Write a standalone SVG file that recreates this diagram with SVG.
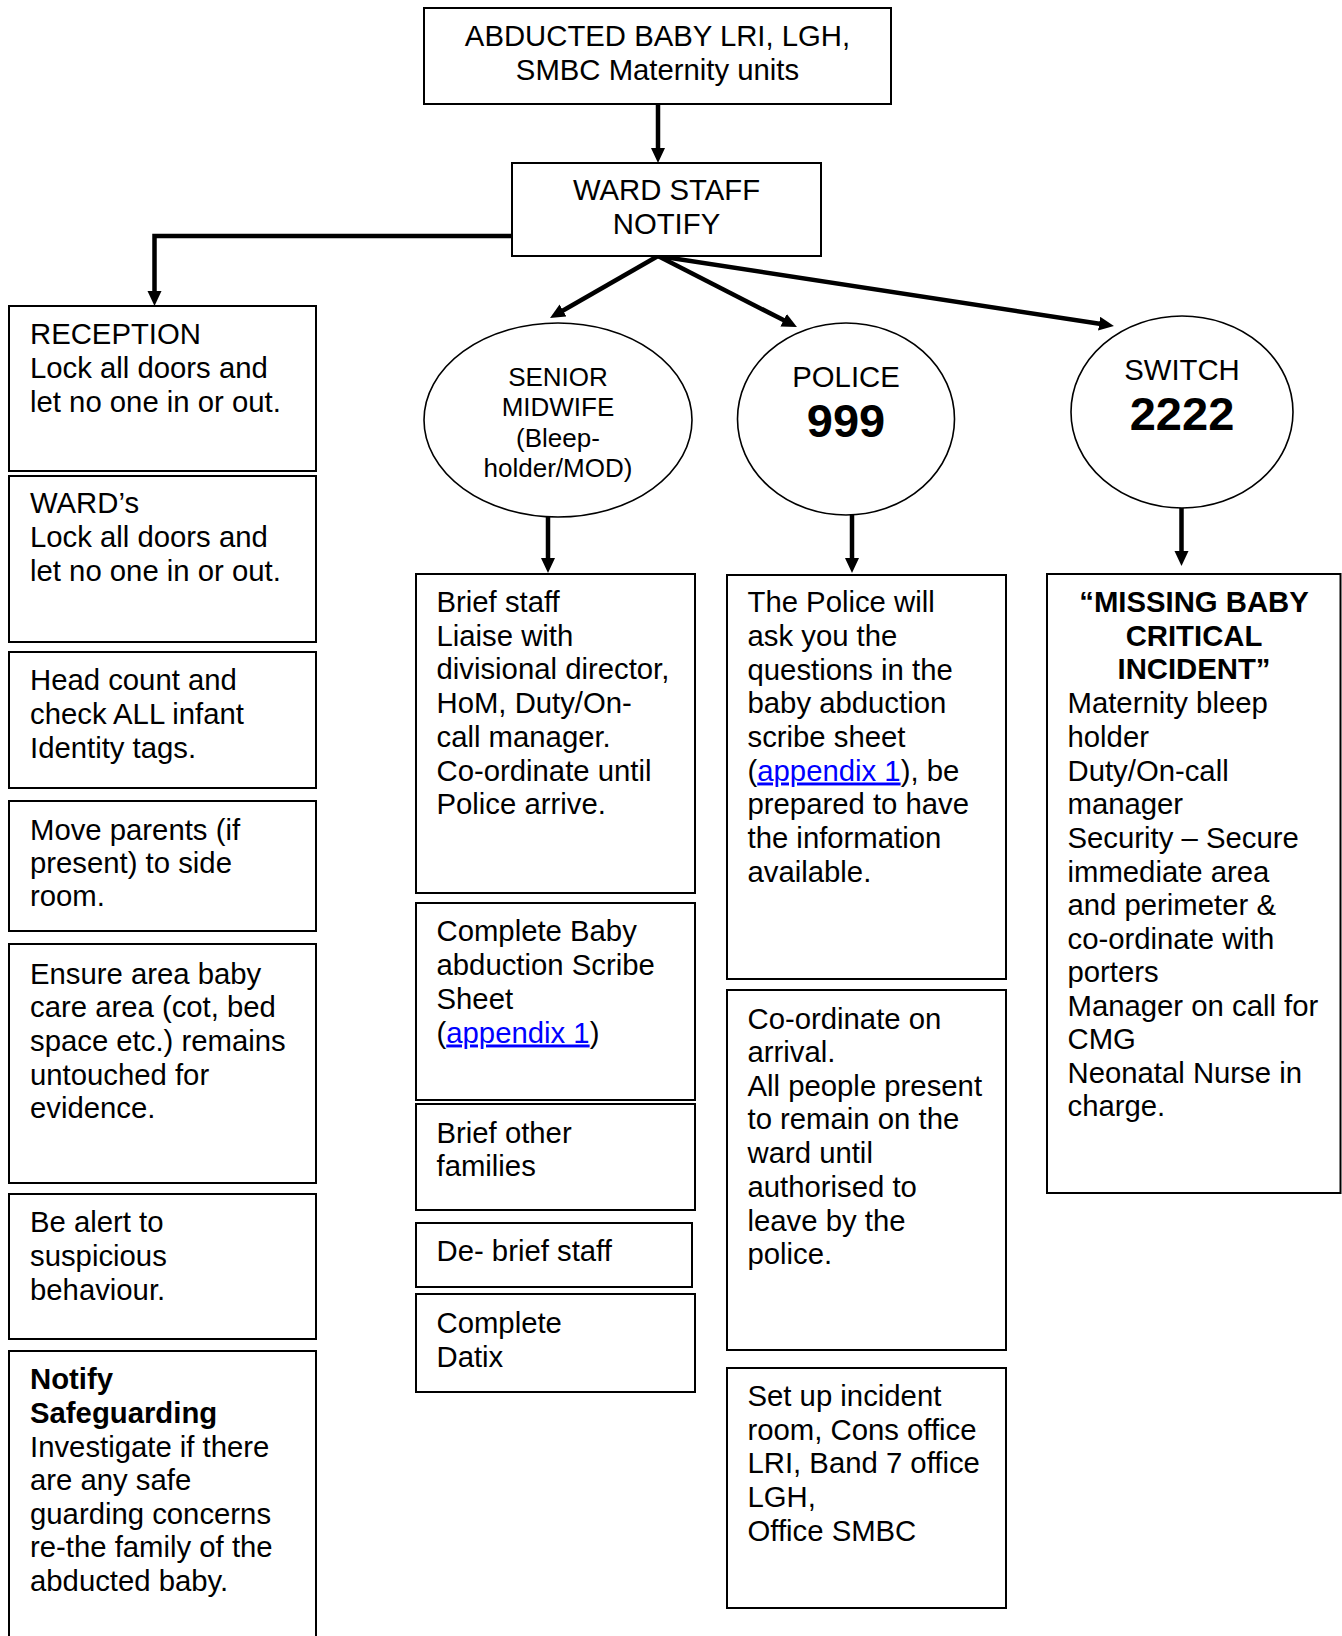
<svg xmlns="http://www.w3.org/2000/svg" width="1342" height="1636" viewBox="0 0 1342 1636">
<style>
  .box { fill: #fff; stroke: #000; stroke-width: 2; }
  .ell { fill: #fff; stroke: #000; stroke-width: 1.6; }
  .t { font-family: "Liberation Sans", Arial, sans-serif; font-size: 29.3px; fill: #000; }
  .s { font-family: "Liberation Sans", Arial, sans-serif; font-size: 26px; fill: #000; }
  .c { text-anchor: middle; }
  .b { font-weight: bold; }
  .big { font-family: "Liberation Sans", Arial, sans-serif; font-size: 47px; font-weight: bold; fill: #000; text-anchor: middle; }
  .link { fill: #0000ff; text-decoration: underline; }
  .conn { fill: none; stroke: #000; stroke-width: 4.5; marker-end: url(#ah); }
</style>
<defs>
  <marker id="ah" markerUnits="userSpaceOnUse" markerWidth="16" markerHeight="16" refX="2" refY="7" orient="auto">
    <path d="M0,0 L15,7 L0,14 Z" fill="#000"/>
  </marker>
</defs>
<rect width="1342" height="1636" fill="#fff"/>

<g id="connectors">
  <line class="conn" x1="658" y1="104" x2="658" y2="150"/>
  <polyline class="conn" points="512,236 154.5,236 154.5,293"/>
  <line class="conn" x1="658" y1="256" x2="561.3" y2="311.5"/>
  <line class="conn" x1="658" y1="256" x2="785.4" y2="321.1"/>
  <line class="conn" x1="658" y1="256" x2="1101.1" y2="324"/>
  <line class="conn" x1="548" y1="504" x2="548" y2="560"/>
  <line class="conn" x1="852" y1="504" x2="852" y2="560"/>
  <line class="conn" x1="1181.5" y1="496" x2="1181.5" y2="553"/>
</g>

<g id="top">
  <rect class="box" x="424" y="8" width="467" height="96"/>
  <text class="t c" x="657.5" y="46">ABDUCTED BABY LRI, LGH,</text>
  <text class="t c" x="657.5" y="80">SMBC Maternity units</text>
</g>

<g id="ward-staff">
  <rect class="box" x="512" y="163" width="309" height="93"/>
  <text class="t c" x="666.5" y="200">WARD STAFF</text>
  <text class="t c" x="666.5" y="234">NOTIFY</text>
</g>

<g id="reception">
  <rect class="box" x="9" y="306" width="307" height="165"/>
  <text class="t" x="30" y="344">RECEPTION</text>
  <text class="t" x="30" y="378">Lock all doors and</text>
  <text class="t" x="30" y="412">let no one in or out.</text>
</g>

<g id="wards">
  <rect class="box" x="9" y="476" width="307" height="166"/>
  <text class="t" x="30" y="513">WARD’s</text>
  <text class="t" x="30" y="547">Lock all doors and</text>
  <text class="t" x="30" y="581">let no one in or out.</text>
</g>

<g id="head-count">
  <rect class="box" x="9" y="652" width="307" height="136"/>
  <text class="t" x="30" y="690">Head count and</text>
  <text class="t" x="30" y="724">check ALL infant</text>
  <text class="t" x="30" y="758">Identity tags.</text>
</g>

<g id="move-parents">
  <rect class="box" x="9" y="801" width="307" height="130"/>
  <text class="t" x="30" y="840">Move parents (if</text>
  <text class="t" x="30" y="873">present) to side</text>
  <text class="t" x="30" y="906">room.</text>
</g>

<g id="ensure">
  <rect class="box" x="9" y="944" width="307" height="239"/>
  <text class="t" x="30" y="983.5">Ensure area baby</text>
  <text class="t" x="30" y="1017">care area (cot, bed</text>
  <text class="t" x="30" y="1051">space etc.) remains</text>
  <text class="t" x="30" y="1084.5">untouched for</text>
  <text class="t" x="30" y="1118">evidence.</text>
</g>

<g id="be-alert">
  <rect class="box" x="9" y="1194" width="307" height="145"/>
  <text class="t" x="30" y="1232">Be alert to</text>
  <text class="t" x="30" y="1266">suspicious</text>
  <text class="t" x="30" y="1300">behaviour.</text>
</g>

<g id="notify">
  <rect class="box" x="9" y="1351" width="307" height="320"/>
  <text class="t b" x="30" y="1389">Notify</text>
  <text class="t b" x="30" y="1423">Safeguarding</text>
  <text class="t" x="30" y="1456.5">Investigate if there</text>
  <text class="t" x="30" y="1490">are any safe</text>
  <text class="t" x="30" y="1524">guarding concerns</text>
  <text class="t" x="30" y="1557">re-the family of the</text>
  <text class="t" x="30" y="1591">abducted baby.</text>
</g>

<g id="senior-midwife">
  <ellipse class="ell" cx="558" cy="420" rx="134" ry="97"/>
  <text class="s c" x="558" y="386">SENIOR</text>
  <text class="s c" x="558" y="416">MIDWIFE</text>
  <text class="s c" x="558" y="447">(Bleep-</text>
  <text class="s c" x="558" y="477">holder/MOD)</text>
</g>

<g id="police">
  <ellipse class="ell" cx="846" cy="419" rx="108.5" ry="96"/>
  <text class="t c" x="846" y="387">POLICE</text>
  <text class="big" x="846" y="437">999</text>
</g>

<g id="switch">
  <ellipse class="ell" cx="1182" cy="412" rx="111" ry="96"/>
  <text class="t c" x="1182" y="380">SWITCH</text>
  <text class="big" x="1182" y="430">2222</text>
</g>

<g id="brief-staff">
  <rect class="box" x="416" y="574" width="279" height="319"/>
  <text class="t" x="436.5" y="612">Brief staff</text>
  <text class="t" x="436.5" y="645.5">Liaise with</text>
  <text class="t" x="436.5" y="679">divisional director,</text>
  <text class="t" x="436.5" y="713">HoM, Duty/On-</text>
  <text class="t" x="436.5" y="747">call manager.</text>
  <text class="t" x="436.5" y="780.5">Co-ordinate until</text>
  <text class="t" x="436.5" y="814">Police arrive.</text>
</g>

<g id="complete-scribe">
  <rect class="box" x="416" y="903" width="279" height="197"/>
  <text class="t" x="436.5" y="941">Complete Baby</text>
  <text class="t" x="436.5" y="975">abduction Scribe</text>
  <text class="t" x="436.5" y="1009">Sheet</text>
  <text class="t" x="436.5" y="1042.5">(<tspan class="link">appendix 1</tspan>)</text>
</g>

<g id="brief-families">
  <rect class="box" x="416" y="1104" width="279" height="106"/>
  <text class="t" x="436.5" y="1143">Brief other</text>
  <text class="t" x="436.5" y="1176">families</text>
</g>

<g id="debrief">
  <rect class="box" x="416" y="1223" width="276" height="64"/>
  <text class="t" x="436.5" y="1261">De- brief staff</text>
</g>

<g id="datix">
  <rect class="box" x="416" y="1294" width="279" height="98"/>
  <text class="t" x="436.5" y="1333">Complete</text>
  <text class="t" x="436.5" y="1367">Datix</text>
</g>

<g id="police-questions">
  <rect class="box" x="727" y="575" width="279" height="404"/>
  <text class="t" x="747.5" y="612">The Police will</text>
  <text class="t" x="747.5" y="645.5">ask you the</text>
  <text class="t" x="747.5" y="679.5">questions in the</text>
  <text class="t" x="747.5" y="713">baby abduction</text>
  <text class="t" x="747.5" y="747">scribe sheet</text>
  <text class="t" x="747.5" y="780.5">(<tspan class="link">appendix 1</tspan>), be</text>
  <text class="t" x="747.5" y="814">prepared to have</text>
  <text class="t" x="747.5" y="848">the information</text>
  <text class="t" x="747.5" y="881.5">available.</text>
</g>

<g id="coordinate">
  <rect class="box" x="727" y="990" width="279" height="360"/>
  <text class="t" x="747.5" y="1029">Co-ordinate on</text>
  <text class="t" x="747.5" y="1062">arrival.</text>
  <text class="t" x="747.5" y="1095.5">All people present</text>
  <text class="t" x="747.5" y="1129">to remain on the</text>
  <text class="t" x="747.5" y="1162.5">ward until</text>
  <text class="t" x="747.5" y="1196.5">authorised to</text>
  <text class="t" x="747.5" y="1230.5">leave by the</text>
  <text class="t" x="747.5" y="1264">police.</text>
</g>

<g id="incident-room">
  <rect class="box" x="727" y="1368" width="279" height="240"/>
  <text class="t" x="747.5" y="1406">Set up incident</text>
  <text class="t" x="747.5" y="1439.5">room, Cons office</text>
  <text class="t" x="747.5" y="1473">LRI, Band 7 office</text>
  <text class="t" x="747.5" y="1507">LGH,</text>
  <text class="t" x="747.5" y="1540.5">Office SMBC</text>
</g>

<g id="missing-baby">
  <rect class="box" x="1047" y="574" width="293.5" height="619"/>
  <text class="t c b" x="1194" y="612">“MISSING BABY</text>
  <text class="t c b" x="1194" y="645.5">CRITICAL</text>
  <text class="t c b" x="1194" y="679">INCIDENT”</text>
  <text class="t" x="1067.5" y="713">Maternity bleep</text>
  <text class="t" x="1067.5" y="747">holder</text>
  <text class="t" x="1067.5" y="780.5">Duty/On-call</text>
  <text class="t" x="1067.5" y="814">manager</text>
  <text class="t" x="1067.5" y="848">Security – Secure</text>
  <text class="t" x="1067.5" y="881.5">immediate area</text>
  <text class="t" x="1067.5" y="915">and perimeter &amp;</text>
  <text class="t" x="1067.5" y="948.5">co-ordinate with</text>
  <text class="t" x="1067.5" y="982">porters</text>
  <text class="t" x="1067.5" y="1015.5">Manager on call for</text>
  <text class="t" x="1067.5" y="1049">CMG</text>
  <text class="t" x="1067.5" y="1082.5">Neonatal Nurse in</text>
  <text class="t" x="1067.5" y="1116">charge.</text>
</g>
</svg>
